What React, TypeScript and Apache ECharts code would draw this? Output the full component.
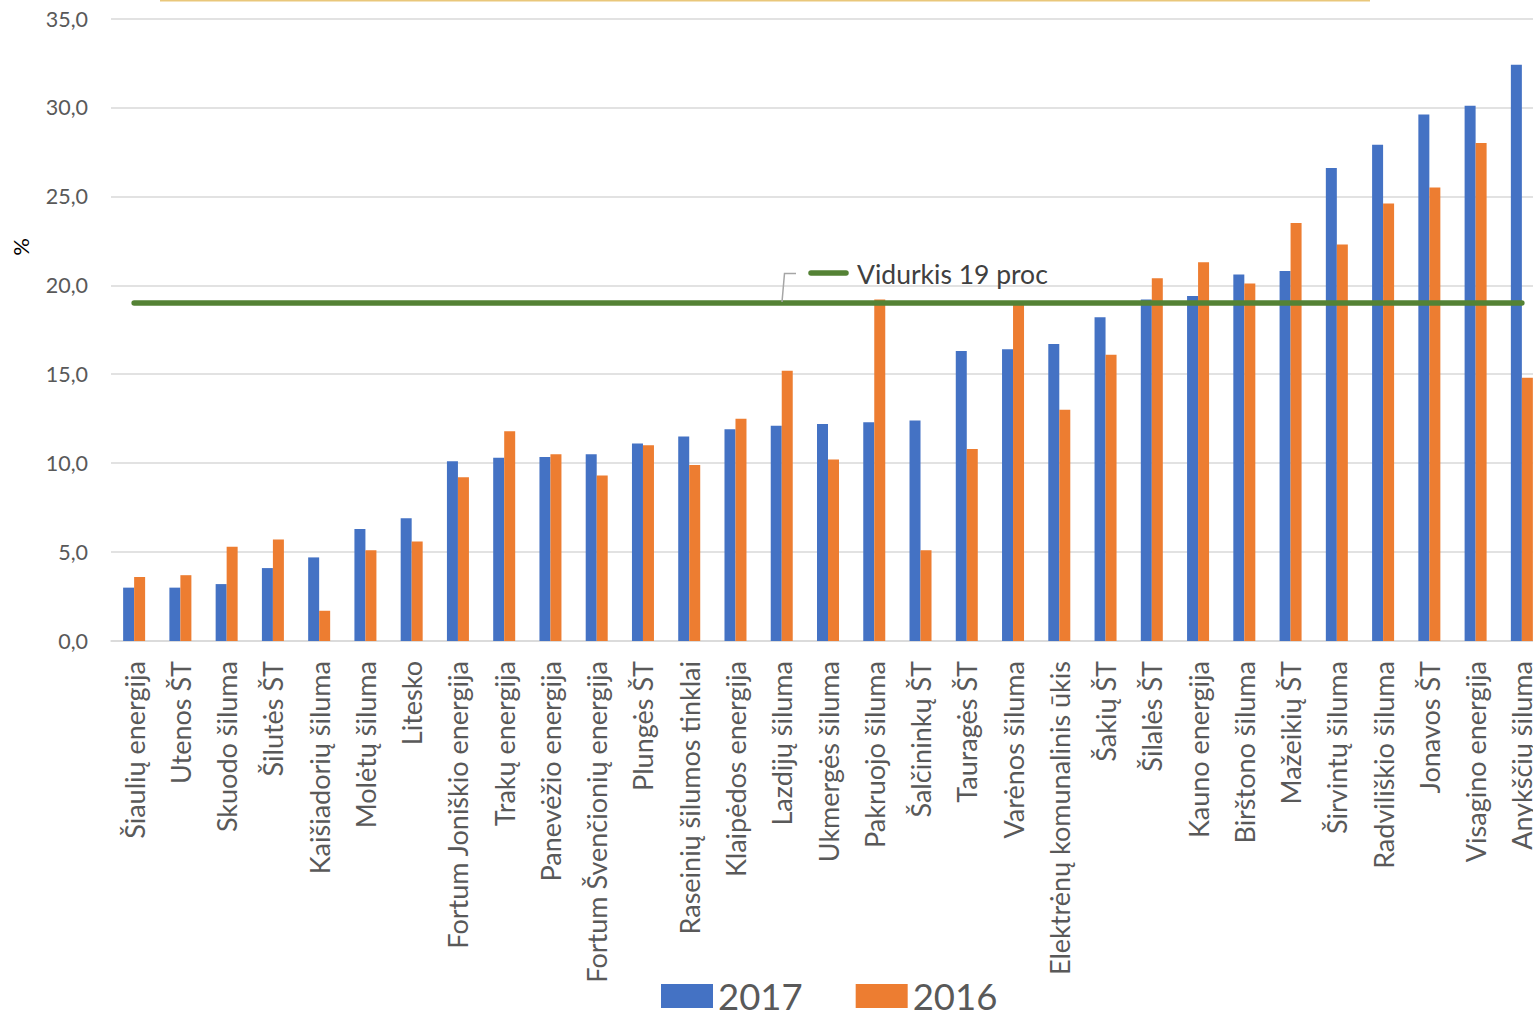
import React, { useEffect, useRef } from "react";
import * as echarts from "echarts";

const categories = [
  "Šiaulių energija", "Utenos ŠT", "Skuodo šiluma", "Šilutės ŠT", "Kaišiadorių šiluma",
  "Molėtų šiluma", "Litesko", "Fortum Joniškio energija", "Trakų energija", "Panevėžio energija",
  "Fortum Švenčionių energija", "Plungės ŠT", "Raseinių šilumos tinklai", "Klaipėdos energija",
  "Lazdijų šiluma", "Ukmergės šiluma", "Pakruojo šiluma", "Šalčininkų ŠT", "Tauragės ŠT",
  "Varėnos šiluma", "Elektrėnų komunalinis ūkis", "Šakių ŠT", "Šilalės ŠT", "Kauno energija",
  "Birštono šiluma", "Mažeikių ŠT", "Širvintų šiluma", "Radviliškio šiluma", "Jonavos ŠT",
  "Visagino energija", "Anykščių šiluma",
];

const values2017 = [
  3.0, 3.0, 3.2, 4.1, 4.7, 6.3, 6.9, 10.1, 10.3, 10.35, 10.5, 11.1, 11.5, 11.9, 12.1, 12.2,
  12.3, 12.4, 16.3, 16.4, 16.7, 18.2, 19.2, 19.4, 20.6, 20.8, 26.6, 27.9, 29.6, 30.1, 32.4,
];

const values2016 = [
  3.6, 3.7, 5.3, 5.7, 1.7, 5.1, 5.6, 9.2, 11.8, 10.5, 9.3, 11.0, 9.9, 12.5, 15.2, 10.2,
  19.2, 5.1, 10.8, 19.0, 13.0, 16.1, 20.4, 21.3, 20.1, 23.5, 22.3, 24.6, 25.5, 28.0, 14.8,
];

const averageValue = 19;
const averageLabel = "Vidurkis 19 proc";
const yTicks = { min: 0, max: 35, interval: 5 };

const FONT = "Lato, 'Open Sans', sans-serif";

export default function App() {
  const ref = useRef<HTMLDivElement>(null);

  useEffect(() => {
    if (!ref.current) return;
    const chart = echarts.init(ref.current, undefined, { renderer: "svg" });
    chart.setOption({
      animation: false,
      backgroundColor: "#ffffff",
      textStyle: { fontFamily: FONT },
      grid: { left: 111, right: 15, top: 18.5, bottom: 372, containLabel: false },
      legend: {
        data: ["2017", "2016"],
        left: 661,
        top: 977,
        padding: 0,
        icon: "rect",
        itemWidth: 52,
        itemHeight: 24,
        itemGap: 53,
        textStyle: { fontSize: 36.5, color: "#595959", fontFamily: FONT, lineHeight: 38 },
      },
      xAxis: {
        type: "category",
        data: categories,
        axisTick: { show: false },
        axisLine: { lineStyle: { color: "#d9d9d9", width: 1.5 } },
        axisLabel: {
          interval: 0,
          rotate: 90,
          margin: 20,
          color: "#595959",
          fontSize: 27,
          fontFamily: FONT,
        },
      },
      yAxis: {
        type: "value",
        min: yTicks.min,
        max: yTicks.max,
        interval: yTicks.interval,
        axisLine: { show: false },
        axisTick: { show: false },
        splitLine: { lineStyle: { color: "#d9d9d9", width: 1.5 } },
        axisLabel: {
          margin: 23,
          color: "#595959",
          fontSize: 21.5,
          fontFamily: FONT,
          formatter: (v: number) => v.toFixed(1).replace(".", ","),
        },
      },
      series: [
        {
          name: "2017",
          type: "bar",
          data: values2017,
          barWidth: 11,
          barGap: "0%",
          itemStyle: { color: "#4472C4" },
        },
        {
          name: "2016",
          type: "bar",
          data: values2016,
          barWidth: 11,
          barGap: "0%",
          itemStyle: { color: "#ED7D31" },
        },
        {
          name: "Vidurkis",
          type: "line",
          data: categories.map(() => averageValue),
          symbol: "none",
          z: 5,
          lineStyle: { color: "#548235", width: 5.5, cap: "round" },
        },
      ],
      graphic: [
        {
          type: "line",
          shape: { x1: 160, y1: 0.5, x2: 1370, y2: 0.5 },
          style: { stroke: "#E9C77B", lineWidth: 2 },
        },
        {
          type: "text",
          x: 20,
          y: 247,
          rotation: Math.PI / 2,
          style: {
            text: "%",
            fill: "#000000",
            fontSize: 22,
            fontFamily: FONT,
            align: "center",
            verticalAlign: "middle",
          },
        },
        {
          type: "polyline",
          shape: { points: [[782, 302], [784.5, 273.5], [796, 273.5]] },
          style: { stroke: "#a6a6a6", lineWidth: 1.5, fill: "none" },
          z: 10,
        },
        {
          type: "line",
          shape: { x1: 811, y1: 273, x2: 846, y2: 273 },
          style: { stroke: "#548235", lineWidth: 5.5, lineCap: "round" },
          z: 10,
        },
        {
          type: "text",
          x: 857,
          y: 274,
          style: {
            text: averageLabel,
            fill: "#404040",
            fontSize: 26.5,
            fontFamily: FONT,
            verticalAlign: "middle",
          },
          z: 10,
        },
      ],
    });
    return () => chart.dispose();
  }, []);

  return (
    <div style={{ position: "fixed", left: 0, top: 0, width: 1533, height: 1013, overflow: "hidden", background: "#fff" }}>
      <div ref={ref} style={{ position: "absolute", left: 0, top: 0, width: 1560, height: 1013 }} />
    </div>
  );
}
